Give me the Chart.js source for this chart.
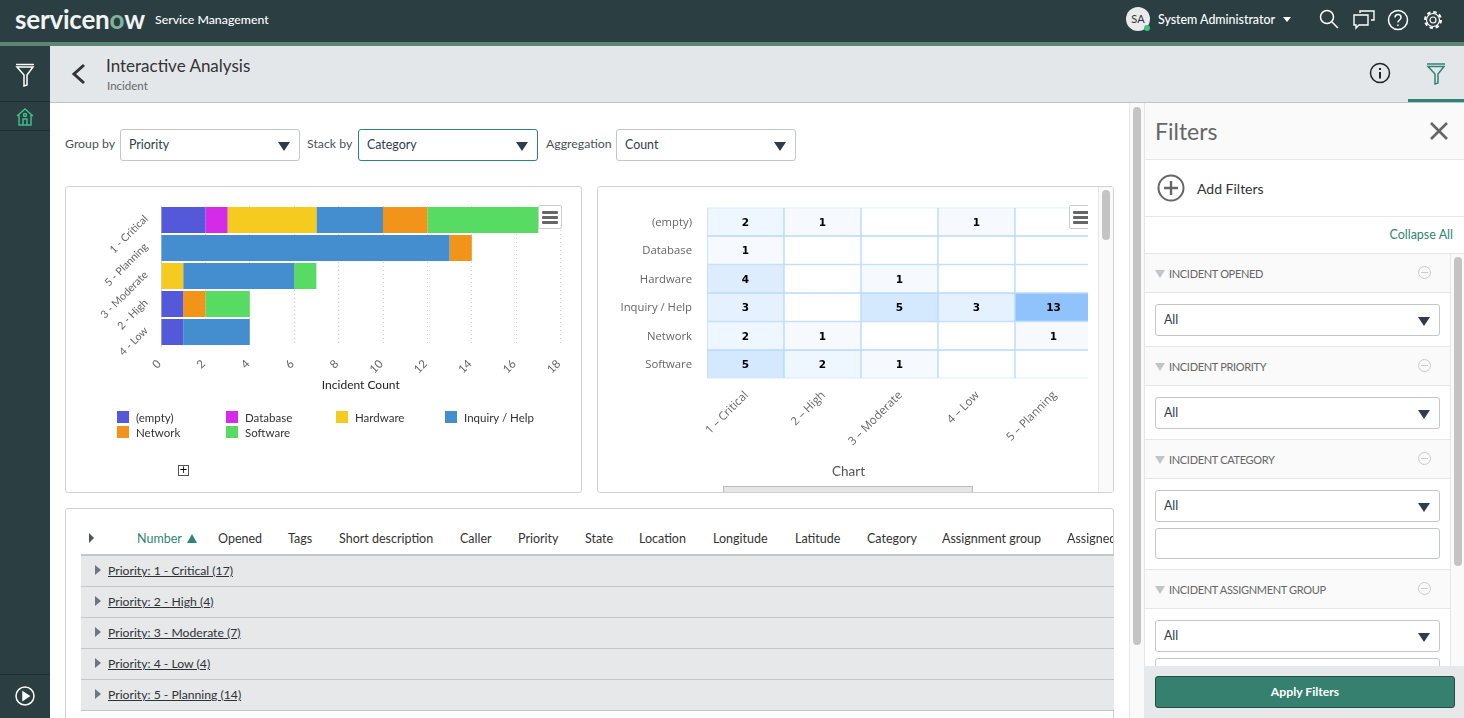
<!DOCTYPE html>
<html><head><meta charset="utf-8">
<script src="https://cdn.jsdelivr.net/npm/chart.js@4"></script>
<style>
*{box-sizing:border-box}
html,body{margin:0;padding:0;width:1464px;height:718px;overflow:hidden;background:#fff;font-family:Lato,sans-serif;color:#333}
.a{position:absolute}
.t{position:absolute;white-space:nowrap;line-height:16px;font-size:12.3px}
.sel{position:absolute;height:32px;border:1px solid #c4c7ca;border-radius:3px;background:#fff;font-size:12.4px;line-height:29px;padding-left:8px;color:#2e3d49}
.sel:after{content:"";position:absolute;right:9px;top:12px;border-left:6px solid transparent;border-right:6px solid transparent;border-top:9px solid #2e3d49}
.inp{position:absolute;border:1px solid #c4c7ca;border-radius:3px;background:#fff}
.hl{position:absolute;height:1px;background:#e4e6e8}
.card{position:absolute;background:#fff;border:1px solid #d0d2d4;border-radius:3px}
.menu{position:absolute;width:24px;height:24px;background:#fff;border:1px solid #ccc;border-radius:2px}
.menu i{position:absolute;left:3px;width:16px;height:3px;background:#666;border-radius:1px}
.row{position:absolute;left:81px;width:1033px;height:31px;background:#e6e8ea;border-bottom:1px solid #c4c7ca}
.row u{position:absolute;left:27px;top:7px;font-size:12.2px;line-height:16px;color:#2e3338}
.row:before{content:"";position:absolute;left:14px;top:9px;border-top:5px solid transparent;border-bottom:5px solid transparent;border-left:6px solid #6b7680}
.th{position:absolute;top:531px;font-size:12.5px;line-height:16px;color:#333;white-space:nowrap}
.sec{position:absolute;left:1145px;width:305px;height:40px;background:#fafafa;border-bottom:1px solid #e4e6e8;border-top:1px solid #e4e6e8;}
.sec span{position:absolute;left:24px;top:12px;font-size:11px;line-height:16px;color:#666;letter-spacing:-.32px}
.sec:before{content:"";position:absolute;left:10px;top:16px;border-left:5px solid transparent;border-right:5px solid transparent;border-top:8px solid #c2c5c8}
.sec b{position:absolute;left:273px;top:12px;width:13px;height:13px;border:1px solid #c8cacc;border-radius:50%}
.sec b:after{content:"";position:absolute;left:2px;top:5px;width:7px;height:1px;background:#c8cacc}
.lg{position:absolute;font-size:11.5px;line-height:14px;color:#333;white-space:nowrap}
.lg i{position:absolute;left:0;top:0;width:12px;height:12px}
.lg span{position:absolute;left:19px;top:0px}
</style></head><body>
<!-- header -->
<div class="a" style="left:0;top:0;width:1464px;height:42px;background:#2b3e42"></div>
<div class="a" style="left:0;top:42px;width:1464px;height:4px;background:#5e8575"></div>
<div class="a" style="left:0;top:46px;width:50px;height:672px;background:#2b3e42"></div>
<div class="a" style="left:0;top:101px;width:50px;height:1px;background:#1f2e31"></div>
<div class="a" style="left:0;top:130px;width:50px;height:1px;background:#1f2e31"></div>
<div class="a" style="left:0;top:674px;width:50px;height:1px;background:#1f2e31"></div>
<div class="t" style="left:15px;top:5px;line-height:28px;font-size:26px;font-weight:700;color:#f2f4f4;letter-spacing:-.2px">servicen<span style="color:#7fb59a">o</span>w</div>
<div class="t" style="left:155px;top:12px;color:#fff;font-size:12.3px;font-weight:500">Service Management</div>
<div class="a" style="left:1126px;top:7px;width:24px;height:24px;border-radius:50%;background:#e8eaeb;color:#333;font-size:11px;line-height:24px;text-align:center">SA</div>
<div class="a" style="left:1144px;top:25px;width:6px;height:6px;border-radius:50%;background:#3fc380"></div>
<div class="t" style="left:1158px;top:12px;color:#fff;font-size:12.4px;font-weight:500">System Administrator</div>
<div class="a" style="left:1283px;top:17px;border-left:4.5px solid transparent;border-right:4.5px solid transparent;border-top:5px solid #fff"></div>
<svg class="a" style="left:1318px;top:8px" width="22" height="22" fill="none" stroke="#fff" stroke-width="1.5"><circle cx="9" cy="9" r="6.5"/><path d="M14 14l6 6"/></svg>
<svg class="a" style="left:1352px;top:8px" width="24" height="22" fill="none" stroke="#fff" stroke-width="1.4"><path d="M8 5V3h14v9h-3M2 7h14v10H7l-3 3v-3H2z"/></svg>
<svg class="a" style="left:1387px;top:9px" width="22" height="22" fill="none" stroke="#fff" stroke-width="1.5"><circle cx="11" cy="11" r="9.5"/><path d="M8 8.5c0-4 6-4 6 0 0 2.500-3 2.500-3 5"/><path d="M11 15.500v1.500"/></svg>
<svg class="a" style="left:1422px;top:9px" width="22" height="22" fill="none" stroke="#fff"><circle cx="11" cy="11" r="3" stroke-width="1.200"/><circle cx="11" cy="11" r="6.500" stroke-width="1.200"/><circle cx="11" cy="11" r="8" stroke-width="2" stroke-dasharray="3.500 2.780"/></svg>
<svg class="a" style="left:14px;top:62px" width="22" height="26" fill="none" stroke="#fff" stroke-width="1.500"><path d="M2 2.500h18M3 5h16l-6 8v10l-3 1V13z"/></svg>
<svg class="a" style="left:15px;top:106px" width="20" height="22" fill="none" stroke="#3fbf8b" stroke-width="1.500"><path d="M2 10l8-7 8 7M4 9v10h12V9M8 19v-6h4v6"/><circle cx="10" cy="9" r="1.500"/></svg>
<svg class="a" style="left:14px;top:685px" width="22" height="22" fill="none" stroke="#fff" stroke-width="1.500"><circle cx="11" cy="11" r="9"/><path d="M9 7l6 4-6 4z" fill="#fff"/></svg>
<!-- title bar -->
<div class="a" style="left:50px;top:46px;width:1414px;height:57px;background:#e4e7ea;border-bottom:1px solid #c0c4c8"></div>
<svg class="a" style="left:70px;top:62px" width="18" height="24" fill="none" stroke="#333" stroke-width="3"><path d="M14 3L4 12l10 9"/></svg>
<div class="t" style="left:106px;top:55px;font-size:17px;line-height:22px;color:#333">Interactive Analysis</div>
<div class="t" style="left:107px;top:78px;font-size:11.5px;color:#666">Incident</div>
<svg class="a" style="left:1369px;top:62px" width="22" height="22" fill="none" stroke="#222" stroke-width="1.500"><circle cx="11" cy="11" r="9.500"/><path d="M11 10v6.500" stroke-width="2"/><path d="M11 6v2" stroke-width="2"/></svg>
<svg class="a" style="left:1425px;top:62px" width="22" height="24" fill="none" stroke="#2f8573" stroke-width="1.500"><path d="M2 2h18M3 4.500h16l-6 7.500v9l-3 1V12z"/></svg>
<div class="a" style="left:1408px;top:99px;width:56px;height:3px;background:#2f8573"></div>
<!-- controls -->
<div class="t" style="left:65px;top:136px;color:#4b5257">Group by</div>
<div class="sel" style="left:120px;top:129px;width:180px">Priority</div>
<div class="t" style="left:307px;top:136px;color:#4b5257">Stack by</div>
<div class="sel" style="left:358px;top:129px;width:180px;border-color:#2f8573">Category</div>
<div class="t" style="left:546px;top:136px;color:#4b5257">Aggregation</div>
<div class="sel" style="left:616px;top:129px;width:180px">Count</div>
<!-- left chart card -->
<div class="card" style="left:65px;top:186px;width:517px;height:307px"></div>
<canvas id="barCanvas" class="a" style="left:66px;top:187px" width="515" height="305"></canvas>
<div class="menu" style="left:538px;top:205px"><i style="top:5px"></i><i style="top:10px"></i><i style="top:15px"></i></div>
<div id="legendBox"></div>
<div class="a" style="left:178px;top:465px;width:11px;height:11px;border:1px solid #555;background:#fff;color:#000;font-size:10px;line-height:8px;text-align:center;font-family:'DejaVu Sans'">+</div>
<!-- right chart card -->
<div class="card" style="left:597px;top:186px;width:517px;height:307px"></div>
<div class="a" style="left:598px;top:187px;width:490px;height:305px;overflow:hidden">
  <canvas id="heatCanvas" class="a" style="left:0;top:0" width="520" height="305"></canvas>
  <div class="menu" style="left:471px;top:18px;"><i style="top:5px"></i><i style="top:10px"></i><i style="top:15px"></i></div>
</div>
<div class="t" style="left:832px;top:463px;color:#555;font-size:13.5px">Chart</div>
<div class="a" style="left:723px;top:486px;width:250px;height:6px;background:#e6e6e6;border:1px solid #bbb;border-bottom:0"></div>
<div class="a" style="left:1098px;top:187px;width:15px;height:305px;background:#fafafa;border-left:1px solid #e6e6e6"></div>
<div class="a" style="left:1102px;top:190px;width:8px;height:50px;background:#c4c4c4;border-radius:4px"></div>
<!-- table -->
<div class="card" style="left:65px;top:508px;width:1049px;height:230px;border-right:1px solid #d0d2d4"></div>
<div class="a" style="left:89px;top:533px;border-top:5px solid transparent;border-bottom:5px solid transparent;border-left:5px solid #4a5560"></div>
<div class="th" style="left:137px;color:#2f8573">Number</div>
<div class="a" style="left:187px;top:534px;border-left:5.500px solid transparent;border-right:5.500px solid transparent;border-bottom:9px solid #2f8573"></div>
<div id="thBox"></div>
<div class="a" style="left:1113px;top:520px;width:1px;height:34px;background:#d0d2d4"></div>
<div class="a" style="left:81px;top:554px;width:1033px;height:2px;background:#c4c7ca"></div>
<div id="rowBox"></div>
<!-- main scrollbar -->
<div class="a" style="left:1129px;top:103px;width:16px;height:615px;background:#fafafa;border-left:1px solid #e4e6e8;border-right:1px solid #e4e6e8"></div>
<div class="a" style="left:1133px;top:107px;width:8px;height:538px;background:#c4c4c4;border-radius:4px"></div>
<!-- filter panel -->
<div class="a" style="left:1145px;top:103px;width:319px;height:57px;background:#fafafa;border-bottom:1px solid #e4e6e8"></div>
<div class="t" style="left:1155px;top:117px;font-size:23px;line-height:28px;color:#666">Filters</div>
<svg class="a" style="left:1429px;top:121px" width="20" height="20" fill="none" stroke="#666" stroke-width="2.600"><path d="M2 2l16 16M18 2L2 18"/></svg>
<svg class="a" style="left:1157px;top:174px" width="28" height="28" fill="none" stroke="#666" stroke-width="2"><circle cx="14" cy="14" r="12.500"/><path d="M14 7v14M7 14h14" stroke-width="2.400"/></svg>
<div class="t" style="left:1197px;top:181px;font-size:14px;color:#333">Add Filters</div>
<div class="hl" style="left:1145px;top:216px;width:319px"></div>
<div class="t" style="right:11px;top:227px;color:#2f8573;font-size:12.500px">Collapse All</div>
<div class="hl" style="left:1145px;top:253px;width:319px"></div>
<div id="filterBox"></div>
<div class="a" style="left:1450px;top:254px;width:14px;height:412px;background:#fafafa;border-left:1px solid #e4e6e8"></div>
<div class="a" style="left:1454px;top:257px;width:8px;height:309px;background:#c4c4c4;border-radius:4px"></div>
<div class="a" style="left:1144px;top:666px;width:320px;height:52px;background:#e6e8ea"></div>
<div class="a" style="left:1155px;top:676px;width:300px;height:32px;background:#35806f;border:1px solid #1f4f45;border-radius:3px;color:#fff;font-size:12.2px;font-weight:700;line-height:29px;text-align:center">Apply Filters</div>
<script>
// ---- data ----
const barPriorities = ['1 - Critical','5 - Planning','3 - Moderate','2 - High','4 - Low'];
const barEmpty    = [2,0,0,1,1];
const barDatabase = [1,0,0,0,0];
const barHardware = [4,0,1,0,0];
const barInquiry  = [3,13,5,0,3];
const barNetwork  = [2,1,0,1,0];
const barSoftware = [5,0,1,2,0];
const seriesNames = ['(empty)','Database','Hardware','Inquiry / Help','Network','Software'];
const seriesColors = ['#5459da','#d62ae9','#f5cb1f','#448ed0','#f19419','#58db63'];
const xTickStep = 2, xMax = 18, xTitle = 'Incident Count';

const heatPriorities = ['1 – Critical','2 – High','3 – Moderate','4 – Low','5 – Planning'];
const heatEmpty    = [2,1,0,1,0];
const heatDatabase = [1,0,0,0,0];
const heatHardware = [4,0,1,0,0];
const heatInquiry  = [3,0,5,3,13];
const heatNetwork  = [2,1,0,0,1];
const heatSoftware = [5,2,1,0,0];

const tableColumns = [['Opened',218],['Tags',288],['Short description',339],['Caller',460],['Priority',518],['State',585],['Location',639],['Longitude',713],['Latitude',795],['Category',867],['Assignment group',942]];
const tableGroups = ['Priority: 1 - Critical (17)','Priority: 2 - High (4)','Priority: 3 - Moderate (7)','Priority: 4 - Low (4)','Priority: 5 - Planning (14)'];
const filterSections = [['INCIDENT OPENED',254,[304]],['INCIDENT PRIORITY',347,[397]],['INCIDENT CATEGORY',440,[490]],['INCIDENT ASSIGNMENT GROUP',570,[620]]];

// ---- page furniture ----
const byId = id => document.getElementById(id);
byId('thBox').innerHTML = tableColumns.map(c=>`<div class="th" style="left:${c[1]}px">${c[0]}</div>`).join('')
  + `<div class="a" style="left:1067px;top:531px;width:46px;height:16px;overflow:hidden;font-size:12.5px;line-height:16px;white-space:nowrap">Assigned to</div>`;
byId('rowBox').innerHTML = tableGroups.map((g,i)=>`<div class="row" style="top:${556+31*i}px"><u>${g}</u></div>`).join('');
byId('filterBox').innerHTML = filterSections.map(s=>`<div class="sec" style="top:${s[1]-1}px"><span>${s[0]}</span><b></b></div><div class="sel" style="left:1155px;top:${s[2][0]}px;width:285px">All</div>`).join('')
  + `<div class="inp" style="left:1155px;top:528px;width:285px;height:31px"></div><div class="inp" style="left:1155px;top:658px;width:285px;height:20px"></div>`
  + `<div class="hl" style="left:1145px;top:569px;width:305px"></div>`;
const legendX=[117,226,336,445], legendY=[411,426];
byId('legendBox').innerHTML = seriesNames.map((n,i)=>`<div class="lg" style="left:${legendX[i%4]}px;top:${legendY[Math.floor(i/4)]}px"><i style="background:${seriesColors[i]}"></i><span>${n}</span></div>`).join('');

// ---- stacked bar chart ----
const barData = [barEmpty,barDatabase,barHardware,barInquiry,barNetwork,barSoftware];
new Chart(byId('barCanvas'),{
  type:'bar',
  data:{labels:barPriorities,datasets:seriesNames.map((n,i)=>({label:n,data:barData[i],backgroundColor:seriesColors[i],borderWidth:0,barPercentage:26/28,categoryPercentage:1}))},
  options:{
    indexAxis:'y',responsive:false,animation:false,
    layout:{padding:{top:19,right:20.4,bottom:100,left:0}},
    plugins:{legend:{display:false},tooltip:{enabled:false}},
    scales:{
      x:{stacked:true,min:0,max:xMax,
        ticks:{stepSize:xTickStep,autoSkip:false,minRotation:45,maxRotation:45,color:'#666',font:{family:'Lato',size:11.5},padding:11,labelOffset:-2},
        grid:{color:'#cccccc',drawTicks:false,lineWidth:1},border:{display:false,dash:[1,3]},
        title:{display:true,text:xTitle,color:'#222',font:{family:'Lato',size:12},padding:{top:2,bottom:0}},
        afterFit(s){s.height=46;s.paddingLeft=s.paddingRight=s.paddingTop=s.paddingBottom=0;}},
      y:{stacked:true,
        ticks:{autoSkip:false,minRotation:45,maxRotation:45,color:'#666',font:{family:'Lato',size:10.7},padding:15,labelOffset:-3},
        grid:{display:false,drawTicks:false},border:{display:true,color:'#ccd6eb',width:1},
        afterFit(s){s.width=95;s.paddingLeft=s.paddingRight=s.paddingTop=s.paddingBottom=0;}}
    }
  }
});

// ---- heat map (floating bars, one dataset per row) ----
const heatRows = [heatEmpty,heatDatabase,heatHardware,heatInquiry,heatNetwork,heatSoftware];
const heatMax = 13;
const heatColor = v => {const t=v/heatMax;return `rgb(${Math.round(255-111*t)},${Math.round(255-60*t)},${Math.round(255-3*t)})`;};
const heatValues = {
  id:'heatValues',
  afterDatasetsDraw(chart){
    const c=chart.ctx;c.save();c.font='bold 10.500px "DejaVu Sans"';c.fillStyle='#000';c.textAlign='center';c.textBaseline='middle';
    chart.data.datasets.forEach((ds,di)=>{
      chart.getDatasetMeta(di).data.forEach((el,i)=>{
        if(ds.counts[i]>0){const p=el.getCenterPoint();c.fillText(ds.counts[i],p.x,p.y+1.5);}
      });
    });
    c.restore();
  }
};
new Chart(byId('heatCanvas'),{
  type:'bar',
  data:{labels:heatPriorities,datasets:seriesNames.map((n,r)=>({
    label:n,counts:heatRows[r],data:heatRows[r].map(()=>[r,r+1]),
    backgroundColor:heatRows[r].map(heatColor),borderColor:'#b8dafd',borderWidth:1,borderSkipped:false,
    grouped:false,barPercentage:1,categoryPercentage:1}))},
  options:{
    responsive:false,animation:false,
    layout:{padding:{top:20.5,right:26,bottom:0,left:0}},
    plugins:{legend:{display:false},tooltip:{enabled:false}},
    scales:{
      x:{ticks:{autoSkip:false,minRotation:45,maxRotation:45,color:'#666',font:{family:'Open Sans',size:11.5},padding:10,labelOffset:1},
        grid:{display:false,drawTicks:false},border:{display:false},
        afterFit(s){s.height=113.5;s.paddingLeft=s.paddingRight=s.paddingTop=s.paddingBottom=0;}},
      y:{min:0,max:seriesNames.length,reverse:true,
        afterBuildTicks(s){s.ticks=seriesNames.map((_,i)=>({value:i+0.5}));},
        ticks:{autoSkip:false,color:'#666',font:{family:'Open Sans',size:11.3},padding:15,labelOffset:1,callback:v=>seriesNames[Math.floor(v)]},
        grid:{display:false,drawTicks:false},border:{display:false},
        afterFit(s){s.width=109;s.paddingLeft=s.paddingRight=s.paddingTop=s.paddingBottom=0;}}
    }
  },
  plugins:[heatValues]
});
</script>
</body></html>
